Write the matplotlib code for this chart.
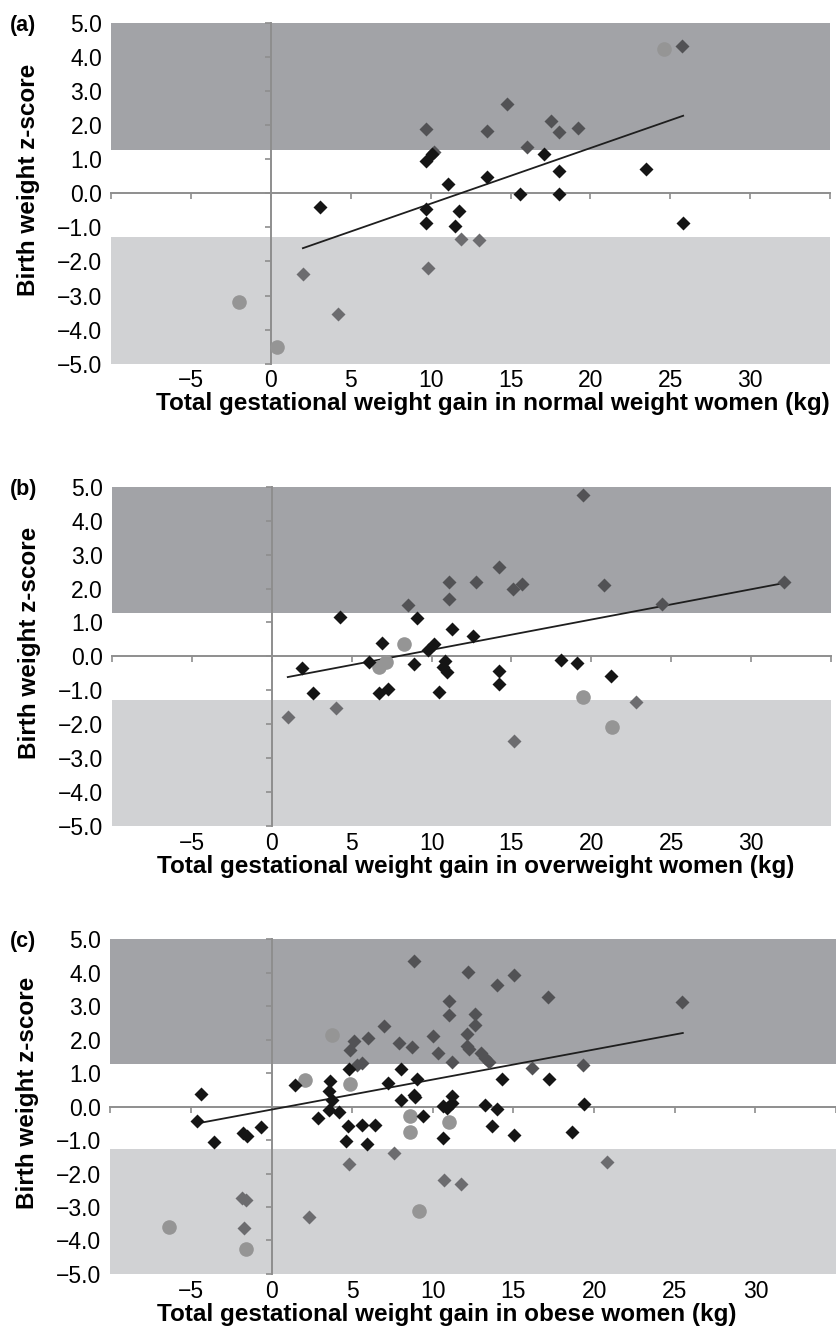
import matplotlib.pyplot as plt
from matplotlib.ticker import FuncFormatter

plt.rcParams['font.family'] = ['Liberation Sans', 'DejaVu Sans']

# (a) normal weight women
a_norm_x = [3.1, 9.7, 10.1, 11.1, 13.5, 18.0, 23.5, 15.6, 18.0, 9.7, 11.8, 9.7, 11.5, 25.8, 17.1]
a_norm_y = [-0.39, 0.95, 1.15, 0.28, 0.48, 0.65, 0.72, -0.03, -0.03, -0.47, -0.52, -0.86, -0.95, -0.87, 1.15]
a_lga_x = [25.7, 14.75, 9.7, 13.5, 17.5, 18.0, 19.2, 16.0, 10.2]
a_lga_y = [4.3, 2.6, 1.89, 1.81, 2.13, 1.80, 1.91, 1.36, 1.22]
a_sga_x = [2.0, 4.2, 11.9, 13.0, 9.8]
a_sga_y = [-2.38, -3.55, -1.34, -1.36, -2.2]
a_circ_x = [-2.0, 0.4, 24.6]
a_circ_y = [-3.18, -4.52, 4.23]
a_trend_x = [2.0, 25.8]
a_trend_y = [-1.61, 2.27]

# (b) overweight women
b_norm_x = [1.9, 4.3, 2.55, 6.9, 6.1, 6.7, 7.25, 9.1, 8.9, 11.25, 12.6, 10.15, 9.8, 10.85,
            10.7, 10.95, 10.45, 14.2, 14.2, 18.1, 19.1, 21.2]
b_norm_y = [-0.35, 1.17, -1.08, 0.39, -0.18, -1.08, -0.97, 1.14, -0.23, 0.8, 0.61, 0.37, 0.19, -0.15,
            -0.3, -0.47, -1.04, -0.43, -0.82, -0.12, -0.2, -0.57]
b_lga_x = [8.5, 11.1, 11.1, 12.8, 14.2, 15.1, 15.65, 19.5, 20.8, 24.4, 32.05]
b_lga_y = [1.5, 2.19, 1.69, 2.19, 2.62, 1.99, 2.14, 4.76, 2.11, 1.54, 2.19]
b_sga_x = [1.0, 4.05, 22.8, 15.15]
b_sga_y = [-1.8, -1.53, -1.35, -2.49]
b_circ_x = [6.7, 7.15, 8.3, 19.45, 21.3]
b_circ_y = [-0.3, -0.18, 0.37, -1.2, -2.07]
b_trend_x = [1.0, 32.05]
b_trend_y = [-0.61, 2.16]

# (c) obese women
c_norm_x = [-4.37, -4.64, -3.55, -1.8, -1.55, -0.67, 1.45, 3.6, 3.55, 3.72, 3.55, 4.17, 2.89,
            4.72, 5.6, 6.43, 4.62, 5.91, 4.8, 7.21, 8.05, 9.0, 8.05, 8.9, 9.41, 8.8, 11.16,
            10.65, 10.9, 11.2, 13.26, 14.0, 19.4, 13.69, 10.6, 15.03, 18.63, 14.31, 17.23]
c_norm_y = [0.39, -0.44, -1.05, -0.78, -0.88, -0.62, 0.64, 0.76, 0.46, 0.21, -0.09, -0.17, -0.34,
            -0.57, -0.54, -0.54, -1.04, -1.11, 1.11, 0.71, 1.11, 0.84, 0.21, 0.29, -0.27, 0.36, 0.31,
            0.01, -0.04, 0.1, 0.06, -0.07, 0.09, -0.57, -0.94, -0.84, -0.77, 0.83, 0.83]
c_lga_x = [5.09, 4.89, 5.98, 6.99, 7.9, 8.69, 10.03, 10.3, 5.3, 5.6, 8.84, 12.19, 15.03, 13.98,
           17.13, 11.0, 11.0, 12.6, 12.6, 12.13, 12.13, 12.23, 11.16, 13.01, 13.26, 13.47,
           16.16, 19.29, 25.46]
c_lga_y = [1.95, 1.70, 2.05, 2.42, 1.91, 1.77, 2.11, 1.60, 1.25, 1.3, 4.36, 4.02, 3.94, 3.62,
           3.28, 3.17, 2.73, 2.78, 2.45, 2.17, 1.82, 1.72, 1.32, 1.60, 1.45, 1.32,
           1.16, 1.25, 3.12]
c_sga_x = [-1.84, -1.6, -1.7, 2.31, 4.78, 7.56, 20.77, 10.71, 11.72]
c_sga_y = [-2.73, -2.8, -3.63, -3.31, -1.70, -1.38, -1.66, -2.2, -2.3]
c_circ_x = [-6.39, -1.59, 2.07, 3.75, 4.89, 8.6, 8.6, 11.0, 9.15]
c_circ_y = [-3.61, -4.24, 0.81, 2.13, 0.69, -0.27, -0.77, -0.47, -3.13]
c_trend_x = [-4.48, 25.5]
c_trend_y = [-0.49, 2.2]

panel_tags = ['(a)', '(b)', '(c)']
x_titles = ['Total gestational weight gain in normal weight women (kg)',
            'Total gestational weight gain in overweight women (kg)',
            'Total gestational weight gain in obese women (kg)']
y_title = 'Birth weight z-score'
x_ticks = [-10, -5, 0, 5, 10, 15, 20, 25, 30, 35]
x_ticklabels = [-5, 0, 5, 10, 15, 20, 25, 30]
y_ticks = [-5, -4, -3, -2, -1, 0, 1, 2, 3, 4, 5]
band = 1.28

panels = [
    (a_norm_x, a_norm_y, a_lga_x, a_lga_y, a_sga_x, a_sga_y, a_circ_x, a_circ_y, a_trend_x, a_trend_y),
    (b_norm_x, b_norm_y, b_lga_x, b_lga_y, b_sga_x, b_sga_y, b_circ_x, b_circ_y, b_trend_x, b_trend_y),
    (c_norm_x, c_norm_y, c_lga_x, c_lga_y, c_sga_x, c_sga_y, c_circ_x, c_circ_y, c_trend_x, c_trend_y),
]
boxes = [[0.133, 0.726, 0.860, 0.257],
         [0.134, 0.378, 0.860, 0.2555],
         [0.132, 0.0407, 0.868, 0.252]]
# horizontal centre of each x title (axes fraction)
title_x = [0.531, 0.506, 0.463]

minus_fmt = FuncFormatter(lambda v, p: f'{v:.1f}'.replace('-', '\u2212'))

fig = plt.figure(figsize=(8.36, 13.28), dpi=100)

for i in range(3):
    nx, ny, lx, ly, sx_, sy_, cx, cy, tx, ty = panels[i]
    ax = fig.add_axes(boxes[i])
    ax.set_xlim(-10, 35)
    ax.set_ylim(-5, 5)

    # shaded z-score bands
    ax.axhspan(band, 5, color='#a2a3a7', lw=0, zorder=0)
    ax.axhspan(-5, -band, color='#d1d2d4', lw=0, zorder=0)

    # axes crossing at zero
    for s in ['top', 'right']:
        ax.spines[s].set_visible(False)
    for s in ['left', 'bottom']:
        ax.spines[s].set_position(('data', 0))
        ax.spines[s].set_color('#8e8e8e')
        ax.spines[s].set_linewidth(1.4)
    ax.set_xticks(x_ticks)
    ax.set_yticks(y_ticks)
    ax.tick_params(labelbottom=False, labelleft=False, direction='out',
                   length=4, width=1.2, color='#8e8e8e')

    # labels at the edges of the box
    sec_x = ax.secondary_xaxis('bottom')
    sec_x.set_xticks(x_ticklabels)
    sec_x.spines['bottom'].set_visible(False)
    sec_x.tick_params(length=0, labelsize=16.5, pad=4)
    sec_x.set_xlabel(x_titles[i], fontsize=17.5, fontweight='bold', labelpad=0)
    sec_x.xaxis.label.set_x(title_x[i])
    sec_y = ax.secondary_yaxis('left')
    sec_y.set_yticks(y_ticks)
    sec_y.yaxis.set_major_formatter(minus_fmt)
    sec_y.spines['left'].set_visible(False)
    sec_y.tick_params(length=0, labelsize=16.5, pad=6.5)
    sec_y.set_ylabel(y_title, fontsize=17.5, fontweight='bold', labelpad=12)
    sec_y.yaxis.label.set_y(0.54)

    ax.plot(tx, ty, color='#1e1e1e', lw=1.3, zorder=3)
    ax.plot(cx, cy, 'o', ms=10.5, color='#959595', mec='none', zorder=4)
    ax.plot(lx, ly, 'D', ms=7, color='#525255', mec='none', zorder=4)
    ax.plot(sx_, sy_, 'D', ms=7, color='#6c6c6f', mec='none', zorder=4)
    ax.plot(nx, ny, 'D', ms=7, color='#151515', mec='none', zorder=5)

    top = boxes[i][1] + boxes[i][3]
    fig.text(0.012, top - 0.002, panel_tags[i], fontsize=15.5, fontweight='bold', va='center')

plt.savefig('out.png', dpi=100)
